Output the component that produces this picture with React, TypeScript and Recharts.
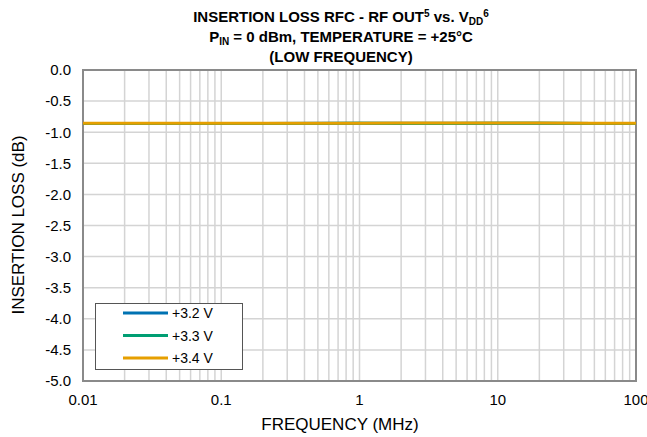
import React from "react";
import {
  LineChart,
  Line,
  XAxis,
  YAxis,
  CartesianGrid,
  ReferenceArea,
  Customized,
} from "recharts";

// ---- data ----
const frequencies = [0.01, 0.02, 0.05, 0.1, 0.2, 0.5, 1, 2, 5, 10, 20, 50, 100];
const loss32 = [-0.86, -0.86, -0.86, -0.86, -0.86, -0.855, -0.855, -0.855, -0.855, -0.855, -0.855, -0.86, -0.86];
const loss33 = [-0.86, -0.86, -0.86, -0.86, -0.86, -0.86, -0.855, -0.86, -0.86, -0.855, -0.855, -0.86, -0.86];
const loss34 = [-0.855, -0.855, -0.855, -0.855, -0.855, -0.855, -0.855, -0.852, -0.852, -0.852, -0.852, -0.855, -0.855];

const seriesNames = ["+3.2 V", "+3.3 V", "+3.4 V"];
const seriesKeys = ["v32", "v33", "v34"];
const seriesColors = ["#0072B2", "#009E73", "#E69F00"];

const xGridTicks = [
  0.01, 0.02, 0.03, 0.04, 0.05, 0.06, 0.07, 0.08, 0.09,
  0.1, 0.2, 0.3, 0.4, 0.5, 0.6, 0.7, 0.8, 0.9,
  1, 2, 3, 4, 5, 6, 7, 8, 9,
  10, 20, 30, 40, 50, 60, 70, 80, 90, 100,
];
const xLabelTicks = [0.01, 0.1, 1, 10, 100];
const xLabelText = ["0.01", "0.1", "1", "10", "100"];
const yTicks = [0, -0.5, -1, -1.5, -2, -2.5, -3, -3.5, -4, -4.5, -5];

const data = frequencies.map((f, i) => ({
  f,
  v32: loss32[i],
  v33: loss33[i],
  v34: loss34[i],
}));

const FONT = "Arial, 'Liberation Sans', Helvetica, sans-serif";

const xFmt = (v: number) => {
  const idx = xLabelTicks.findIndex((t) => Math.abs(t - v) < 1e-9);
  return idx >= 0 ? xLabelText[idx] : "";
};

const Overlay = () => (
  <g fontFamily={FONT} fill="#000">
    <g fontWeight="bold" textAnchor="middle">
      <text x={341} y={22} fontSize={15}>
        <tspan>INSERTION LOSS RFC - RF OUT</tspan>
        <tspan fontSize={10} dy={-5}>5</tspan>
        <tspan dy={5}> vs. V</tspan>
        <tspan fontSize={10} dy={3}>DD</tspan>
        <tspan fontSize={10} dy={-8}>6</tspan>
      </text>
      <text x={341} y={42} fontSize={15}>
        <tspan>P</tspan>
        <tspan fontSize={10} dy={3}>IN</tspan>
        <tspan dy={-3}> = 0 dBm, TEMPERATURE = +25°C</tspan>
      </text>
      <text x={341} y={62} fontSize={15}>
        (LOW FREQUENCY)
      </text>
    </g>
    <text
      x={0}
      y={0}
      fontSize={17}
      textAnchor="middle"
      transform="translate(24,225) rotate(-90)"
    >
      INSERTION LOSS (dB)
    </text>
    <text x={340} y={430} fontSize={17} textAnchor="middle">
      FREQUENCY (MHz)
    </text>
    <g transform="translate(95,303)">
      <rect x={0.5} y={0.5} width={147} height={66} fill="#fff" stroke="#555" strokeWidth={1} />
      {seriesNames.map((n, i) => (
        <g key={n}>
          <line
            x1={28}
            x2={73}
            y1={10 + i * 22.5}
            y2={10 + i * 22.5}
            stroke={seriesColors[i]}
            strokeWidth={3}
          />
          <text x={77} y={15 + i * 22.5} fontSize={14}>
            {n}
          </text>
        </g>
      ))}
    </g>
  </g>
);

export default function App() {
  return (
    <div style={{ position: "absolute", left: 0, top: 0, background: "#fff" }}>
      <LineChart
        width={647}
        height={437}
        data={data}
        margin={{ top: 70, right: 11, bottom: 26, left: 23 }}
      >
        <CartesianGrid stroke="#d4d4d4" strokeWidth={1.5} />
        <XAxis
          dataKey="f"
          type="number"
          scale="log"
          domain={[0.01, 100]}
          ticks={xGridTicks}
          interval={0}
          tickFormatter={xFmt}
          tickLine={false}
          tickSize={0}
          tickMargin={13}
          axisLine={false}
          height={30}
          allowDataOverflow
          tick={{ fontSize: 15, fill: "#000", fontFamily: FONT }}
        />
        <YAxis
          type="number"
          domain={[-5, 0]}
          ticks={yTicks}
          interval={0}
          tickFormatter={(v: number) => v.toFixed(1)}
          tickLine={false}
          tickSize={0}
          tickMargin={12}
          axisLine={false}
          width={60}
          allowDataOverflow
          tick={{ fontSize: 15, fill: "#000", fontFamily: FONT }}
        />
        <ReferenceArea
          x1={0.01}
          x2={100}
          y1={-5}
          y2={0}
          fill="none"
          stroke="#8a8a8a"
          strokeWidth={2}
          fillOpacity={0}
          ifOverflow="visible"
        />
        {seriesKeys.map((k, i) => (
          <Line
            key={k}
            dataKey={k}
            name={seriesNames[i]}
            stroke={seriesColors[i]}
            strokeWidth={3}
            dot={false}
            isAnimationActive={false}
            type="linear"
          />
        ))}
        <Customized component={Overlay} />
      </LineChart>
    </div>
  );
}
